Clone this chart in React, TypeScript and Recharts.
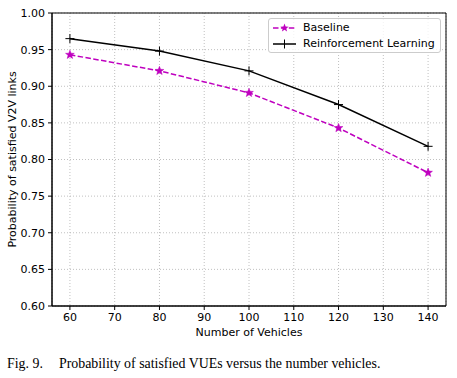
import React from "react"
import {
  LineChart,
  Line,
  XAxis,
  YAxis,
  CartesianGrid,
  ReferenceArea,
} from "recharts"

const vehicles = [60, 80, 100, 120, 140]
const baseline = [0.943, 0.921, 0.891, 0.843, 0.782]
const reinforcement = [0.965, 0.948, 0.921, 0.875, 0.818]
const xTicks = [60, 70, 80, 90, 100, 110, 120, 130, 140]
const yTicks = [0.6, 0.65, 0.7, 0.75, 0.8, 0.85, 0.9, 0.95, 1.0]

const data = vehicles.map((v, i) => ({
  vehicles: v,
  baseline: baseline[i],
  rl: reinforcement[i],
}))

const MAGENTA = "#bf00bf"
const FONT = "'DejaVu Sans', sans-serif"

function starPath(cx: number, cy: number, r: number) {
  const pts: string[] = []
  for (let k = 0; k < 10; k++) {
    const rad = k % 2 === 0 ? r : r * 0.42
    const a = -Math.PI / 2 + (k * Math.PI) / 5
    pts.push(`${cx + rad * Math.cos(a)},${cy + rad * Math.sin(a)}`)
  }
  return "M" + pts.join("L") + "Z"
}

const StarDot = (props: any) => {
  const { cx, cy, index } = props
  if (cx == null || cy == null) return <g key={index} />
  return <path key={index} d={starPath(cx, cy, 4.6)} fill={MAGENTA} stroke={MAGENTA} strokeWidth={0.5} />
}

const PlusDot = (props: any) => {
  const { cx, cy, index } = props
  if (cx == null || cy == null) return <g key={index} />
  return (
    <g key={index} stroke="#000" strokeWidth={1}>
      <line x1={cx - 4.5} y1={cy} x2={cx + 4.5} y2={cy} />
      <line x1={cx} y1={cy - 4.5} x2={cx} y2={cy + 4.5} />
    </g>
  )
}

// legend drawn as an overlay so it doesn't eat plot space
const LegendBox = () => (
  <div
    style={{
      position: "absolute",
      left: 268,
      top: 18,
      width: 171,
      height: 33,
      border: "1px solid #cccccc",
      borderRadius: 3,
      background: "rgba(255,255,255,0.8)",
      fontFamily: FONT,
      fontSize: 11,
    }}
  >
    <svg width={30} height={33} style={{ position: "absolute", left: 2, top: 0 }}>
      <line x1={2} y1={9} x2={25} y2={9} stroke={MAGENTA} strokeWidth={1.5} strokeDasharray="5.5 2.4" />
      <path d={starPath(13.5, 9, 4.4)} fill={MAGENTA} />
      <line x1={2} y1={25} x2={25} y2={25} stroke="#000" strokeWidth={1.5} />
      <line x1={13.5} y1={20.5} x2={13.5} y2={29.5} stroke="#000" strokeWidth={1} />
    </svg>
    <div style={{ position: "absolute", left: 34, top: 2, whiteSpace: "nowrap" }}>Baseline</div>
    <div style={{ position: "absolute", left: 34, top: 18, whiteSpace: "nowrap" }}>Reinforcement Learning</div>
  </div>
)

export default function App() {
  return (
    <div style={{ position: "absolute", left: 0, top: 0, width: 457, height: 378, background: "#fff" }}>
      <LineChart
        width={457}
        height={345}
        data={data}
        margin={{ top: 13, right: 11, bottom: 9, left: 0 }}
      >
        <CartesianGrid stroke="#b0b0b0" strokeDasharray="1 2" strokeWidth={0.8} />
        <XAxis
          dataKey="vehicles"
          type="number"
          domain={[56, 144]}
          ticks={xTicks}
          height={30}
          tickSize={4}
          tickMargin={3}
          stroke="#000"
          tick={{ fill: "#000", fontSize: 11, fontFamily: FONT }}
          label={{ value: "Number of Vehicles", position: "insideBottom", offset: 0, fill: "#000", fontSize: 11, fontFamily: FONT }}
        />
        <YAxis
          type="number"
          domain={[0.6, 1.0]}
          ticks={yTicks}
          width={52}
          tickSize={4}
          tickMargin={3}
          stroke="#000"
          tickFormatter={(v: number) => v.toFixed(2)}
          tick={{ fill: "#000", fontSize: 11, fontFamily: FONT }}
          label={{ value: "Probability of satisfied V2V links", angle: -90, position: "insideLeft", offset: 12, fill: "#000", fontSize: 11, fontFamily: FONT, style: { textAnchor: "middle" } }}
        />
        <ReferenceArea x1={56} x2={144} y1={0.6} y2={1.0} fill="none" stroke="#000" strokeWidth={1} ifOverflow="visible" />
        <Line
          type="linear"
          dataKey="baseline"
          stroke={MAGENTA}
          strokeWidth={1.5}
          strokeDasharray="5.5 2.4"
          dot={StarDot}
          activeDot={false}
          isAnimationActive={false}
        />
        <Line
          type="linear"
          dataKey="rl"
          stroke="#000"
          strokeWidth={1.5}
          dot={PlusDot}
          activeDot={false}
          isAnimationActive={false}
        />
      </LineChart>
      <LegendBox />
      <div
        style={{
          position: "absolute",
          left: 7,
          top: 356,
          fontFamily: "'Liberation Serif', serif",
          fontSize: 13.9,
          whiteSpace: "nowrap",
          color: "#000",
        }}
      >
        <span>Fig. 9.</span>
        <span style={{ marginLeft: 16 }}>Probability of satisfied VUEs versus the number vehicles.</span>
      </div>
    </div>
  )
}
